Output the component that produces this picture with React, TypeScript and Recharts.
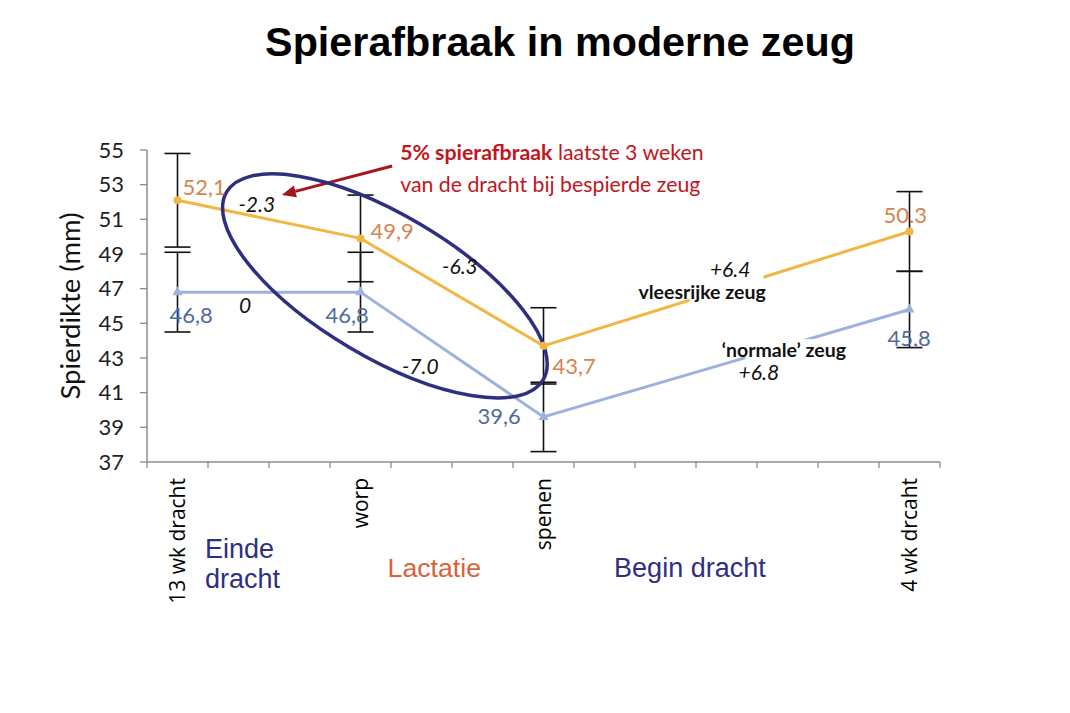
import {
  ErrorBar,
  LabelList,
  Line,
  LineChart,
  ReferenceDot,
  ReferenceLine,
  XAxis,
  YAxis,
} from "recharts";

// x positions are in "weeks-ish" category slots; ticks sit between slots like Excel
const categories = ["13 wk dracht", "worp", "spenen", "4 wk drcaht"];
const slots = [0, 3, 6, 12];
const vleesrijke = [52.1, 49.9, 43.7, 50.3];
const vleesrijkeErr = [2.7, 2.5, 2.2, 2.3];
const normale = [46.8, 46.8, 39.6, 45.8];
const normaleErr = [2.3, 2.3, 2.0, 2.2];
const vleesrijkeLabels = ["52,1", "49,9", "43,7", "50.3"];
const normaleLabels = ["46,8", "46,8", "39,6", "45,8"];
const yTicks = [37, 39, 41, 43, 45, 47, 49, 51, 53, 55];
const slotEdges = Array.from({ length: 14 }, (_, i) => i - 0.5);

const data = slots.map((x, i) => ({
  x,
  vlees: vleesrijke[i],
  vleesErr: vleesrijkeErr[i],
  normaal: normale[i],
  normaalErr: normaleErr[i],
}));

const AXIS = "#8c8c8c";
const YELLOW = "#F1B744";
const YELLOW_TXT = "#D5844E";
const BLUE = "#9DB1DE";
const BLUE_TXT = "#4F6B9B";
const NAVY = "#2E2F80";
const RED = "#C0161E";

// label offsets (dx, dy to baseline, anchor start)
const vleesOffsets = [
  [5, -5],
  [10, 1],
  [9, 28],
  [-26, -8],
];
const normaalOffsets = [
  [-8, 31],
  [-35, 31],
  [-66, 7],
  [-22, 37],
];

// annotation texts in data coordinates
const notes = [
  { x: 1.3, y: 51.43, text: "-2.3", italic: true },
  { x: 1.11, y: 45.6, text: "0", italic: true },
  { x: 4.63, y: 47.85, text: "-6.3", italic: true },
  { x: 3.98, y: 42.08, text: "-7.0", italic: true },
  { x: 9.06, y: 47.68, text: "+6.4", italic: true },
  { x: 9.53, y: 41.73, text: "+6.8", italic: true },
  { x: 8.6, y: 46.41, text: "vleesrijke zeug", bold: true },
  { x: 9.94, y: 43.06, text: "\u2018normale\u2019 zeug", bold: true },
];

function XTick(props: any) {
  const { x, y, payload } = props;
  const idx = slots.indexOf(payload.value);
  const axisY = y - 6;
  if (idx < 0) {
    return <line x1={x} y1={axisY} x2={x} y2={axisY + 6} stroke={AXIS} strokeWidth={1.3} />;
  }
  return (
    <text
      transform={`translate(${x},${axisY + 16}) rotate(-90)`}
      textAnchor="end"
      dy="0.36em"
      fontSize={21}
      fontFamily="Open Sans, sans-serif"
      fill="#000"
    >
      {categories[idx]}
    </text>
  );
}

function makeLabel(texts: string[], offsets: number[][], color: string) {
  return (p: any) => {
    const i = p.index;
    return (
      <text
        x={p.x + offsets[i][0]}
        y={p.y + offsets[i][1]}
        fill={color}
        fontSize={22}
        fontFamily="Lato, sans-serif"
      >
        {texts[i]}
      </text>
    );
  };
}

const YellowDot = (p: any) => <circle cx={p.cx} cy={p.cy} r={4} fill={YELLOW} />;
const BlueDot = (p: any) => (
  <polygon
    points={`${p.cx},${p.cy - 6} ${p.cx - 5},${p.cy + 3} ${p.cx + 5},${p.cy + 3}`}
    fill={BLUE}
  />
);

export default function App() {
  return (
    <div style={{ position: "absolute", left: 0, top: 0, width: 1070, height: 713, background: "#fff" }}>
      <svg width={1070} height={80} style={{ position: "absolute", left: 0, top: 0 }}>
        <text
          x={560}
          y={56}
          textAnchor="middle"
          fontSize={41.3}
          fontWeight="bold"
          fontFamily="Liberation Sans, Arial, sans-serif"
          fill="#000"
        >
          Spierafbraak in moderne zeug
        </text>
      </svg>
      <LineChart
        width={1070}
        height={713}
        data={data}
        margin={{ top: 150, right: 130, bottom: 250, left: 87 }}
        style={{ position: "absolute", left: 0, top: 0 }}
      >
        <XAxis
          dataKey="x"
          type="number"
          domain={[-0.5, 12.5]}
          ticks={[...slotEdges, ...slots]}
          interval={0}
          height={1}
          tickSize={6}
          tickMargin={0}
          tickLine={false}
          tick={<XTick />}
          axisLine={{ stroke: AXIS, strokeWidth: 1.5 }}
        />
        <YAxis
          domain={[37, 55]}
          ticks={yTicks}
          interval={0}
          width={60}
          tickSize={7}
          tickMargin={16}
          tickLine={{ stroke: AXIS, strokeWidth: 1.3 }}
          axisLine={{ stroke: AXIS, strokeWidth: 1.5 }}
          tick={{ fill: "#1e1e1e", fontSize: 22, fontFamily: "Lato, sans-serif" }}
          label={{
            content: (lp: any) => {
              const vb = lp.viewBox;
              const cy = vb.y + vb.height / 2;
              return (
                <text
                  transform={`translate(80,${cy}) rotate(-90)`}
                  textAnchor="middle"
                  fontSize={27.5}
                  fontFamily="Lato, sans-serif"
                  fill="#111"
                >
                  Spierdikte (mm)
                </text>
              );
            },
          }}
        />
        <Line
          dataKey="normaal"
          stroke={BLUE}
          strokeWidth={3}
          dot={<BlueDot />}
          activeDot={false}
          isAnimationActive={false}
        >
          <ErrorBar dataKey="normaalErr" direction="y" width={13} stroke="#111" strokeWidth={1.6} isAnimationActive={false} />
          <LabelList content={makeLabel(normaleLabels, normaalOffsets, BLUE_TXT)} />
        </Line>
        <Line
          dataKey="vlees"
          stroke={YELLOW}
          strokeWidth={3}
          dot={<YellowDot />}
          activeDot={false}
          isAnimationActive={false}
        >
          <ErrorBar dataKey="vleesErr" direction="y" width={13} stroke="#111" strokeWidth={1.6} isAnimationActive={false} />
          <LabelList content={makeLabel(vleesrijkeLabels, vleesOffsets, YELLOW_TXT)} />
        </Line>

        {/* white text boxes that interrupt the lines */}
        <ReferenceDot
          x={9.0}
          y={47.2}
          r={0}
          ifOverflow="visible"
          shape={(p: any) => <rect x={p.cx - 37} y={p.cy - 24} width={74} height={48} fill="#fff" />}
        />
        <ReferenceDot
          x={10.03}
          y={42.7}
          r={0}
          ifOverflow="visible"
          shape={(p: any) => <rect x={p.cx - 44} y={p.cy - 24} width={88} height={48} fill="#fff" />}
        />

        {/* ellipse around the drop */}
        <ReferenceDot
          x={3.4}
          y={47.16}
          r={0}
          ifOverflow="visible"
          shape={(p: any) => (
            <ellipse
              cx={p.cx}
              cy={p.cy}
              rx={184}
              ry={71}
              transform={`rotate(30.7 ${p.cx} ${p.cy})`}
              fill="none"
              stroke={NAVY}
              strokeWidth={3.5}
            />
          )}
        />

        {/* arrow */}
        <ReferenceLine
          segment={[
            { x: 3.52, y: 54.08 },
            { x: 1.71, y: 52.41 },
          ]}
          ifOverflow="visible"
          shape={(p: any) => {
            const { x1, y1, x2, y2 } = p;
            const a = Math.atan2(y2 - y1, x2 - x1);
            const L = 14;
            const W = 6;
            const bx = x2 - L * Math.cos(a);
            const by = y2 - L * Math.sin(a);
            const nx = -Math.sin(a) * W;
            const ny = Math.cos(a) * W;
            return (
              <g>
                <line x1={x1} y1={y1} x2={bx} y2={by} stroke="#A8141B" strokeWidth={3} />
                <polygon points={`${x2},${y2} ${bx + nx},${by + ny} ${bx - nx},${by - ny}`} fill="#A8141B" />
              </g>
            );
          }}
        />

        {/* red comment */}
        <ReferenceDot
          x={3.65}
          y={54.43}
          r={0}
          ifOverflow="visible"
          shape={(p: any) => (
            <text x={p.cx} y={p.cy} fontSize={21.3} fontFamily="Lato, sans-serif" fill={RED}>
              <tspan fontWeight="bold">5% spierafbraak</tspan>
              <tspan> laatste 3 weken</tspan>
              <tspan x={p.cx} dy={32}>
                van de dracht bij bespierde zeug
              </tspan>
            </text>
          )}
        />

        {notes.map((n, i) => (
          <ReferenceDot
            key={i}
            x={n.x}
            y={n.y}
            r={0}
            ifOverflow="visible"
            shape={(p: any) => (
              <text
                x={p.cx}
                y={p.cy}
                textAnchor="middle"
                fontSize={n.bold ? 19.5 : 21}
                fontStyle={n.italic ? "italic" : "normal"}
                fontWeight={n.bold ? "bold" : "normal"}
                fontFamily="Lato, sans-serif"
                fill="#111"
              >
                {n.text}
              </text>
            )}
          />
        ))}

        {/* phase labels below the axis */}
        <ReferenceDot
          x={0.45}
          y={37}
          r={0}
          ifOverflow="visible"
          shape={(p: any) => (
            <text x={p.cx} y={p.cy + 96} fontSize={27} fontFamily="Liberation Sans, Arial, sans-serif" fill={NAVY}>
              Einde
              <tspan x={p.cx} dy={30}>
                dracht
              </tspan>
            </text>
          )}
        />
        <ReferenceDot
          x={4.21}
          y={37}
          r={0}
          ifOverflow="visible"
          shape={(p: any) => (
            <text x={p.cx} y={p.cy + 115} textAnchor="middle" fontSize={26.7} fontFamily="Liberation Sans, Arial, sans-serif" fill="#D9623C">
              Lactatie
            </text>
          )}
        />
        <ReferenceDot
          x={8.4}
          y={37}
          r={0}
          ifOverflow="visible"
          shape={(p: any) => (
            <text x={p.cx} y={p.cy + 115} textAnchor="middle" fontSize={27} fontFamily="Liberation Sans, Arial, sans-serif" fill={NAVY}>
              Begin dracht
            </text>
          )}
        />
      </LineChart>
    </div>
  );
}
